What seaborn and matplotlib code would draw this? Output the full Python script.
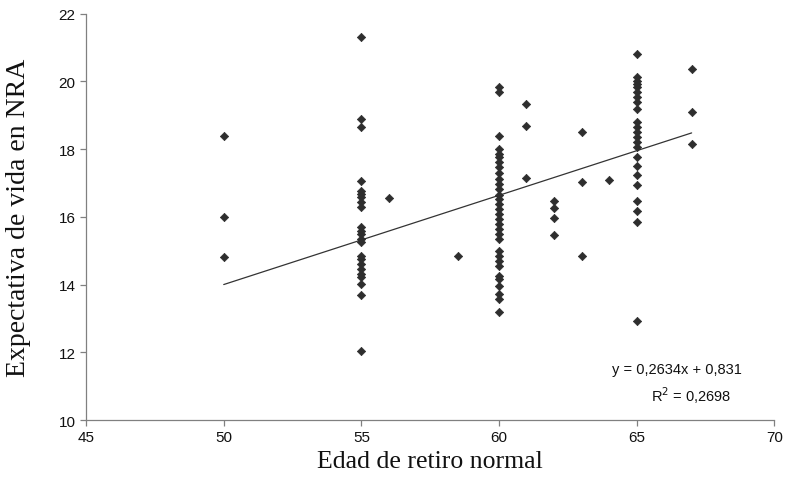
import matplotlib
matplotlib.use("Agg")
import matplotlib.pyplot as plt
import numpy as np
import pandas as pd
import seaborn as sns

# Datos: edad de retiro normal (x) y expectativa de vida en NRA (y)
edad_50 = [18.4, 16.0, 14.8]
edad_55 = [21.3, 18.9, 18.65, 17.05, 16.77, 16.68, 16.58, 16.45, 16.3, 15.69,
           15.59, 15.49, 15.35, 15.25, 14.85, 14.76, 14.61, 14.46, 14.31, 14.21,
           14.02, 13.69, 12.05]
edad_56 = [16.55]
edad_58 = [14.85]
edad_60 = [19.83, 19.68, 18.4, 18.0, 17.86, 17.76, 17.61, 17.47, 17.3, 17.12,
           16.97, 16.82, 16.65, 16.53, 16.38, 16.23, 16.09, 15.94, 15.79, 15.64,
           15.49, 15.35, 15.0, 14.85, 14.71, 14.56, 14.26, 14.17, 13.97, 13.72,
           13.57, 13.18]
edad_61 = [19.33, 18.68, 17.14]
edad_62 = [16.48, 16.26, 15.96, 15.47]
edad_63 = [18.52, 17.04, 14.85]
edad_64 = [17.1]
edad_65 = [20.81, 20.12, 20.02, 19.93, 19.83, 19.68, 19.53, 19.39, 19.19, 18.79,
           18.65, 18.5, 18.35, 18.2, 18.06, 17.76, 17.51, 17.24, 16.94, 16.48,
           16.18, 15.84, 12.93]
edad_67 = [20.37, 19.11, 18.15]

grupos = {50: edad_50, 55: edad_55, 56: edad_56, 58.5: edad_58, 60: edad_60,
          61: edad_61, 62: edad_62, 63: edad_63, 64: edad_64, 65: edad_65,
          67: edad_67}

# Tendencia lineal (de la ecuacion del grafico)
pendiente = 0.2634
ordenada = 0.831

x_ticks = [45, 50, 55, 60, 65, 70]
y_ticks = [10, 12, 14, 16, 18, 20, 22]

df = pd.DataFrame([(edad, v) for edad, vals in grupos.items() for v in vals],
                  columns=["edad", "expectativa"])

sns.set_style("white")
fig = plt.figure(figsize=(7.9, 4.89), dpi=100)
ax = fig.add_axes([0.109, 0.139, 0.871, 0.831])

sns.scatterplot(data=df, x="edad", y="expectativa", ax=ax, marker="D",
                s=18, color="#2e2e2e", edgecolor="#2e2e2e", linewidth=0.5,
                legend=False, zorder=3)

x_line = np.array([df["edad"].min(), df["edad"].max()])
sns.lineplot(x=x_line, y=pendiente * x_line + ordenada, ax=ax,
             color="#333333", linewidth=0.9, zorder=2)

ax.set_xlim(45, 70)
ax.set_ylim(10, 22)
ax.set_xticks(x_ticks)
ax.set_yticks(y_ticks)

for side in ["top", "right"]:
    ax.spines[side].set_visible(False)
for side in ["left", "bottom"]:
    ax.spines[side].set_color("#808080")
    ax.spines[side].set_linewidth(0.9)

ax.tick_params(axis="both", direction="out", length=4, width=0.9,
               color="#808080", labelsize=11, labelcolor="#111111",
               left=True, bottom=True)
for lbl in ax.get_xticklabels() + ax.get_yticklabels():
    lbl.set_family("Liberation Sans")

ax.set_xlabel("Edad de retiro normal", family="Liberation Serif",
              fontsize=18.5, color="#111111", labelpad=4)
ax.set_ylabel("Expectativa de vida en NRA", family="Liberation Serif",
              fontsize=20, color="#111111", labelpad=20)

ax.text(0.859, 0.125, "y = 0,2634x + 0,831", transform=ax.transAxes,
        family="Liberation Sans", fontsize=10.5, color="#111111",
        ha="center", va="center")
ax.text(0.879, 0.063, "R$^2$ = 0,2698", transform=ax.transAxes,
        family="Liberation Sans", fontsize=10.5, color="#111111",
        ha="center", va="center")

fig.savefig("out.png", dpi=100)
